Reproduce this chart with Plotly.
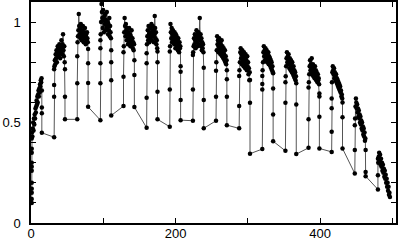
import numpy as np
import plotly.graph_objects as go

# each block: rise at block_start, noisy plateau, fall at block_end
block_start = [1, 32, 64, 96, 128, 160, 192, 224, 256, 288, 320, 352, 384, 416, 448, 480]
block_end = [15, 47, 79, 111, 143, 175, 207, 239, 271, 303, 335, 367, 399, 431, 463, 497]

rise_y = [
    [0.10, 0.12, 0.15, 0.17, 0.20, 0.26, 0.28, 0.30, 0.35, 0.37, 0.42],
    [0.427, 0.628, 0.687, 0.765],
    [0.516, 0.695, 0.83],
    [0.512, 0.695, 0.795, 0.87, 0.91],
    [0.582, 0.728, 0.85],
    [0.474, 0.623, 0.795, 0.845],
    [0.479, 0.665, 0.853],
    [0.509, 0.665, 0.836],
    [0.509, 0.628, 0.758],
    [0.471, 0.582, 0.732],
    [0.368, 0.665, 0.692, 0.732],
    [0.359, 0.599, 0.70],
    [0.374, 0.516, 0.675],
    [0.354, 0.454, 0.571, 0.62],
    [0.246, 0.363, 0.487],
    [0.167, 0.238, 0.32],
]

plateau_y = [
    [0.45, 0.43, 0.47, 0.50, 0.46, 0.52, 0.49, 0.54, 0.52, 0.57, 0.55, 0.58, 0.61,
     0.59, 0.63, 0.60, 0.64, 0.66, 0.63, 0.67, 0.65, 0.69, 0.68, 0.71, 0.70, 0.72],
    [0.78, 0.81, 0.79, 0.84, 0.82, 0.86, 0.80, 0.85, 0.88, 0.83, 0.87, 0.84, 0.89,
     0.86, 0.82, 0.88, 0.85, 0.91, 0.87, 0.84, 0.89, 0.94, 0.86, 0.83, 0.88, 0.80],
    [0.90, 0.93, 0.96, 1.04, 0.98, 0.94, 0.97, 0.92, 0.99, 0.95, 0.91, 0.96, 0.93,
     0.98, 0.94, 0.90, 0.95, 0.92, 0.97, 0.93, 0.89, 0.94, 0.91, 0.95, 0.92, 0.90],
    [0.94, 1.00, 1.09, 1.05, 1.02, 0.97, 1.06, 1.01, 0.95, 1.03, 0.99, 1.04, 0.96,
     1.01, 0.98, 1.05, 0.97, 1.00, 0.94, 0.99, 0.96, 1.02, 0.93, 0.98, 0.95, 0.92],
    [0.88, 0.95, 1.02, 0.98, 0.93, 0.99, 0.96, 0.91, 0.97, 0.94, 0.89, 0.95, 0.92,
     0.97, 0.90, 0.94, 0.88, 0.93, 0.91, 0.96, 0.89, 0.92, 0.87, 0.90, 0.86, 0.89],
    [0.89, 0.93, 0.96, 0.91, 0.98, 0.94, 0.90, 0.95, 0.92, 0.97, 0.93, 0.99, 0.91,
     0.95, 0.98, 0.93, 0.96, 0.90, 0.94, 1.03, 0.97, 0.92, 0.95, 0.89, 0.91, 0.87],
    [0.88, 0.99, 0.95, 0.92, 0.97, 0.90, 0.94, 0.96, 0.91, 0.93, 0.89, 0.95, 0.92,
     0.87, 0.94, 0.90, 0.93, 0.88, 0.91, 0.86, 0.92, 0.89, 0.85, 0.90, 0.87, 0.88],
    [0.85, 0.88, 0.92, 0.89, 0.94, 0.91, 0.87, 0.93, 0.96, 0.90, 0.94, 0.88, 0.92,
     0.95, 0.89, 0.93, 1.02, 0.91, 0.94, 0.88, 0.92, 0.86, 0.90, 0.87, 0.89, 0.85],
    [0.80, 0.86, 0.93, 0.89, 0.91, 0.85, 0.88, 0.92, 0.87, 0.90, 0.84, 0.89, 0.86,
     0.91, 0.83, 0.88, 0.85, 0.82, 0.87, 0.84, 0.81, 0.86, 0.80, 0.83, 0.79, 0.81],
    [0.76, 0.80, 0.85, 0.87, 0.82, 0.84, 0.79, 0.86, 0.81, 0.83, 0.78, 0.85, 0.80,
     0.82, 0.77, 0.84, 0.79, 0.81, 0.76, 0.83, 0.78, 0.80, 0.74, 0.77, 0.71, 0.75],
    [0.76, 0.80, 0.85, 0.88, 0.83, 0.86, 0.81, 0.87, 0.84, 0.82, 0.86, 0.80, 0.84,
     0.81, 0.85, 0.79, 0.83, 0.80, 0.82, 0.78, 0.81, 0.77, 0.80, 0.76, 0.78, 0.75],
    [0.73, 0.78, 0.82, 0.85, 0.80, 0.83, 0.79, 0.84, 0.81, 0.77, 0.82, 0.79, 0.76,
     0.81, 0.78, 0.75, 0.80, 0.77, 0.74, 0.78, 0.73, 0.76, 0.72, 0.75, 0.71, 0.73],
    [0.70, 0.74, 0.78, 0.81, 0.76, 0.79, 0.74, 0.82, 0.77, 0.75, 0.79, 0.73, 0.77,
     0.75, 0.72, 0.78, 0.74, 0.76, 0.71, 0.75, 0.73, 0.70, 0.74, 0.71, 0.72, 0.69],
    [0.70, 0.75, 0.78, 0.76, 0.74, 0.77, 0.72, 0.75, 0.73, 0.71, 0.74, 0.70, 0.72,
     0.69, 0.71, 0.68, 0.70, 0.67, 0.69, 0.66, 0.68, 0.65, 0.66, 0.63, 0.64, 0.62],
    [0.52, 0.58, 0.62, 0.60, 0.57, 0.59, 0.55, 0.57, 0.53, 0.56, 0.52, 0.54, 0.50,
     0.53, 0.49, 0.51, 0.47, 0.50, 0.46, 0.48, 0.44, 0.47, 0.43, 0.45, 0.41, 0.42],
    [0.30, 0.33, 0.35, 0.31, 0.34, 0.29, 0.32, 0.28, 0.30, 0.26, 0.29, 0.25, 0.27,
     0.23, 0.26, 0.22, 0.24, 0.20, 0.22, 0.18, 0.20, 0.16, 0.18, 0.14, 0.15, 0.13],
]

fall_y = [
    [0.66, 0.575, 0.546, 0.449],
    [0.765, 0.628, 0.516],
    [0.866, 0.795, 0.697, 0.578],
    [0.86, 0.80, 0.71, 0.535],
    [0.81, 0.737, 0.577],
    [0.853, 0.80, 0.653, 0.516],
    [0.78, 0.753, 0.612, 0.512],
    [0.773, 0.612, 0.471],
    [0.76, 0.715, 0.628, 0.487],
    [0.712, 0.599, 0.345],
    [0.745, 0.67, 0.54, 0.407],
    [0.695, 0.59, 0.343],
    [0.645, 0.63, 0.529, 0.371],
    [0.60, 0.526, 0.371],
    [0.363, 0.254, 0.233],
    [],
]

x_ticks = [0, 100, 200, 300, 400, 500]
x_labels = ["0", "", "200", "", "400", ""]
y_ticks = [0, 0.1, 0.2, 0.3, 0.4, 0.5, 0.6, 0.7, 0.8, 0.9, 1.0]
y_labels = ["0", "", "", "", "", "0.5", "", "", "", "", "1"]

xs, ys = [], []
for s, e, r, p, f in zip(block_start, block_end, rise_y, plateau_y, fall_y):
    xs += [s] * len(r)
    ys += r
    xs += list(np.linspace(s + 0.4, e - 0.4, len(p)))
    ys += p
    xs += [e] * len(f)
    ys += f

fig = go.Figure(go.Scatter(
    x=xs, y=ys,
    mode="lines+markers",
    line=dict(color="#555", width=1),
    marker=dict(color="black", size=4.5),
    cliponaxis=False,
))

axis_style = dict(
    showline=True, linecolor="black", linewidth=1.5, mirror="ticks",
    ticks="inside", ticklen=5, tickcolor="black", tickwidth=1,
    showgrid=False, zeroline=False, automargin=False,
    tickfont=dict(family="Liberation Sans, Arial", size=13, color="black"),
)
fig.update_xaxes(range=[0, 505], tickvals=x_ticks, ticktext=x_labels,
                 ticklabelstandoff=-2, **axis_style)
fig.update_yaxes(range=[0, 1.1], tickvals=y_ticks, ticktext=y_labels,
                 ticklabelstandoff=6, **axis_style)
fig.update_layout(
    width=399, height=241,
    margin=dict(l=31, r=3, t=2, b=18),
    plot_bgcolor="white", paper_bgcolor="white",
    showlegend=False,
)
# page body has a default 8px margin; drop it so the figure sits at 0,0
fig.write_html("out.html", config={"displayModeBar": False},
               post_script="document.body.style.margin='0';")
